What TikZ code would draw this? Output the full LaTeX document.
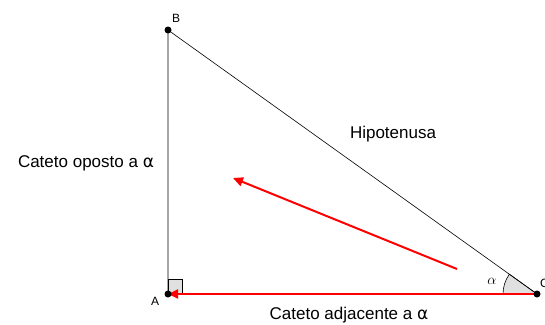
\documentclass[tikz,border=0pt]{standalone}
\usepackage{fontspec}
\setmainfont{Liberation Sans}
\newfontfamily\symfont{DejaVu Sans}
\usetikzlibrary{arrows.meta}
\begin{document}
\begin{tikzpicture}[x=1pt,y=-1pt,
  pt/.style={circle,fill=black,inner sep=0pt,minimum size=7pt},
  lbl/.style={font=\fontsize{17}{20}\selectfont,inner sep=0pt},
  small/.style={font=\fontsize{12}{14}\selectfont,inner sep=0pt},
  redarrow/.style={red,line width=2pt,-{Triangle[length=10pt,width=9pt]}}]
\useasboundingbox (0,0) rectangle (545,324);
\coordinate (A) at (168,294);
\coordinate (B) at (168,30);
\coordinate (C) at (537,294);
% right angle mark
\filldraw[fill=black!12,draw=black,line width=0.6pt] (A) rectangle (182,279);
% angle at C
\filldraw[fill=black!12,draw=black,line width=0.6pt] (C) -- ++(180:34) arc[start angle=180,end angle=215.6,radius=34] -- cycle;
\draw[line width=0.6pt] (A) -- (B) -- (C);
\draw[redarrow] (C) -- (A);
\coordinate (r1) at (457,269);
\coordinate (r2) at (233,178);
\draw[redarrow] (r1) -- (r2);
\node[pt] (nA) at (A) {};
\node[pt] (nB) at (B) {};
\node[pt] (nC) at (C) {};
\node[small] (tA) at (155,301) {A};
\node[small] (tB) at (176,18) {B};
\node[small,anchor=west] (tC) at (540,283) {C};
\node[lbl] (hip) at (393,134) {Hipotenusa};
\node[lbl] (op) at (86,163) {Cateto oposto a {\symfont α}};
\node[lbl] (adj) at (349,315) {Cateto adjacente a {\symfont α}};
\node[font=\fontsize{15}{17}\selectfont\rmfamily,inner sep=0pt] (al) at (492,281) {$\alpha$};
\end{tikzpicture}
\end{document}
